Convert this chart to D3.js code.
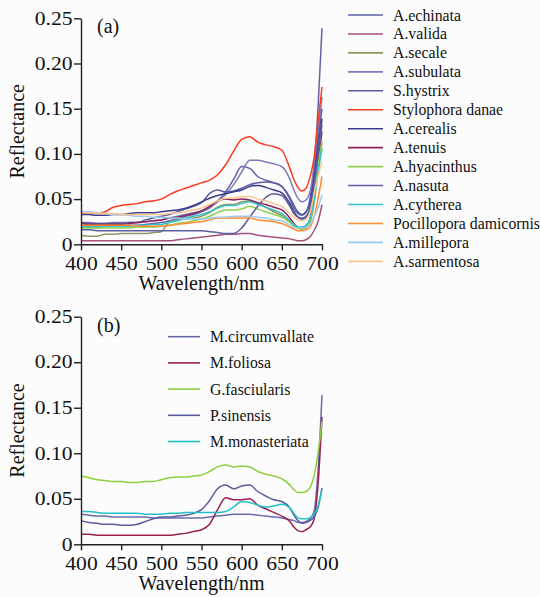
<!DOCTYPE html>
<html>
<head>
<meta charset="utf-8">
<script src="https://cdn.jsdelivr.net/npm/d3@7"></script>
<style>
  html, body { margin: 0; padding: 0; background: #fcfcfc; }
  svg { display: block; font-family: "Liberation Serif", "Times New Roman", serif; }
  .tick text { font-family: "Liberation Serif", "Times New Roman", serif; font-size: 18px; fill: #111; }
  .domain, .tick line { stroke: #222; stroke-width: 1.4; }
  .series { fill: none; stroke-width: 1.5; stroke-linejoin: round; }
  .legend text { font-size: 15.8px; fill: #111; }
  .axis-title { font-size: 20px; fill: #111; }
  .panel-label { font-size: 20px; fill: #111; }
</style>
</head>
<body>
<svg id="chart" width="540" height="597"></svg>
<script>
// ── data ─────────────────────────────────────────────
const WAVELENGTH = [400, 410, 420, 430, 440, 450, 460, 470, 480, 490, 500, 510, 520, 530, 540, 550,
                    560, 570, 580, 590, 600, 610, 620, 630, 640, 650, 660, 665, 670, 675, 680, 685, 690, 695, 700];

const X_TICKS = [400, 450, 500, 550, 600, 650, 700];
const Y_TICKS = [0, 0.05, 0.10, 0.15, 0.20, 0.25];

// (a) Acropora etc.
const A_NAMES  = ["A.echinata", "A.valida", "A.secale", "A.subulata", "S.hystrix", "Stylophora danae", "A.cerealis",
                  "A.tenuis", "A.hyacinthus", "A.nasuta", "A.cytherea", "Pocillopora damicornis", "A.millepora", "A.sarmentosa"];
const A_COLORS = ["#6062a8", "#a8507c", "#8a9a5e", "#7c7cba", "#585a9e", "#ff3b1f", "#3a3a8c",
                  "#901f5e", "#8fcf4f", "#5e5ea0", "#34c2c8", "#ff8c30", "#9ccbf0", "#ffc48c"];

const echinata  = [.019, .019, .019, .020, .020, .020, .021, .021, .022, .023, .024, .026, .028, .031, .033, .036,
                   .040, .048, .058, .072, .086, .084, .075, .071, .068, .064, .052, .043, .036, .033, .036, .050, .085, .150, .239];
const valida    = [.004, .004, .004, .004, .004, .004, .004, .004, .004, .004, .004, .004, .005, .006, .007, .008,
                   .009, .010, .011, .011, .012, .012, .010, .009, .008, .007, .006, .005, .004, .004, .005, .008, .015, .025, .044];
const secale    = [.010, .009, .009, .011, .011, .012, .012, .012, .012, .013, .014, .025, .027, .028, .029, .031,
                   .035, .041, .044, .044, .047, .048, .045, .041, .036, .032, .025, .021, .018, .017, .018, .024, .045, .080, .112];
const subulata  = [.024, .024, .023, .023, .024, .024, .024, .024, .025, .026, .027, .029, .031, .033, .035, .037,
                   .041, .047, .055, .066, .080, .093, .093, .091, .089, .086, .072, .060, .051, .047, .049, .058, .085, .125, .163];
const hystrix   = [.024, .023, .023, .023, .023, .023, .024, .024, .027, .029, .031, .033, .036, .039, .042, .046,
                   .056, .060, .058, .059, .062, .066, .068, .069, .068, .064, .050, .040, .034, .032, .035, .046, .075, .115, .150];
const danae     = [.035, .035, .034, .036, .041, .043, .044, .045, .047, .048, .050, .055, .059, .062, .065, .068,
                   .071, .077, .088, .103, .116, .119, .113, .110, .108, .104, .084, .072, .063, .059, .062, .074, .095, .135, .174];
const cerealis  = [.033, .033, .032, .032, .033, .033, .034, .035, .035, .035, .036, .037, .038, .040, .043, .047,
                   .051, .054, .056, .058, .060, .064, .065, .063, .060, .057, .045, .036, .030, .028, .030, .040, .070, .105, .139];
const tenuis    = [.023, .022, .022, .022, .022, .022, .023, .024, .025, .026, .027, .029, .030, .032, .034, .037,
                   .042, .048, .050, .049, .050, .049, .046, .044, .041, .038, .029, .023, .019, .018, .020, .028, .050, .090, .125];
const hyacinthus = [.018, .018, .018, .018, .018, .018, .018, .019, .019, .019, .020, .021, .023, .024, .026, .028,
                   .031, .035, .038, .038, .039, .042, .039, .036, .033, .030, .024, .020, .018, .017, .019, .026, .048, .085, .115];
const nasuta    = [.016, .016, .015, .015, .015, .015, .015, .015, .015, .015, .015, .015, .015, .015, .015, .015,
                   .014, .013, .012, .012, .018, .030, .042, .052, .056, .054, .042, .034, .030, .029, .031, .040, .065, .100, .132];
const cytherea  = [.020, .020, .020, .020, .020, .020, .020, .021, .021, .022, .022, .024, .026, .029, .031, .033,
                   .036, .040, .043, .043, .045, .047, .044, .041, .038, .034, .026, .022, .019, .019, .021, .028, .048, .080, .106];
const damicornis = [.021, .021, .021, .021, .021, .021, .021, .020, .020, .020, .020, .021, .022, .023, .024, .025,
                   .027, .029, .029, .029, .029, .029, .027, .026, .025, .023, .019, .017, .015, .015, .016, .019, .030, .050, .075];
const millepora = [.036, .036, .035, .034, .033, .033, .032, .031, .031, .030, .030, .029, .029, .028, .028, .028,
                   .029, .030, .030, .031, .031, .031, .030, .029, .027, .026, .021, .019, .018, .018, .019, .022, .030, .040, .055];
const sarmentosa = [.035, .035, .034, .034, .034, .033, .033, .033, .033, .033, .033, .034, .035, .036, .038, .040,
                   .044, .048, .051, .051, .053, .053, .050, .048, .045, .042, .034, .030, .027, .026, .028, .035, .055, .075, .092];

const A_VALUES = [echinata, valida, secale, subulata, hystrix, danae, cerealis,
                  tenuis, hyacinthus, nasuta, cytherea, damicornis, millepora, sarmentosa];

// (b)
const B_NAMES  = ["M.circumvallate", "M.foliosa", "G.fasciularis", "P.sinensis", "M.monasteriata"];
const B_COLORS = ["#6a6aaa", "#9a2052", "#8fcf40", "#5a5aa0", "#22c0c8"];

const circumvallate = [.033, .032, .031, .031, .030, .030, .030, .030, .030, .029, .029, .029, .029, .029, .029, .029,
                       .030, .031, .032, .033, .033, .033, .032, .031, .030, .029, .027, .026, .024, .024, .025, .028, .036, .080, .164];
const foliosa       = [.011, .011, .010, .010, .010, .010, .010, .010, .010, .010, .010, .010, .011, .012, .014, .016,
                       .022, .038, .051, .049, .049, .050, .043, .039, .035, .031, .025, .019, .015, .014, .016, .019, .027, .065, .140];
const fasciularis   = [.075, .073, .071, .070, .069, .069, .068, .068, .069, .069, .071, .073, .074, .074, .075, .076,
                       .080, .085, .087, .085, .086, .085, .080, .077, .075, .072, .065, .060, .057, .057, .058, .062, .075, .100, .135];
const sinensis      = [.026, .024, .023, .022, .022, .021, .021, .022, .025, .028, .030, .030, .031, .032, .034, .038,
                       .048, .061, .065, .061, .064, .065, .058, .053, .049, .047, .040, .032, .026, .023, .024, .026, .030, .040, .062];
const monasteriata  = [.036, .036, .035, .034, .034, .034, .034, .034, .033, .033, .033, .034, .034, .035, .035, .035,
                       .035, .035, .036, .041, .047, .046, .043, .041, .042, .044, .040, .034, .029, .028, .028, .029, .033, .042, .060];

const B_VALUES = [circumvallate, foliosa, fasciularis, sinensis, monasteriata];

// ── layout ───────────────────────────────────────────
const PLOT_L = 81;
const PLOT_R = 322;
const TEXT_STRETCH = 1.2;   // tick digits look horizontally stretched

const svg = d3.select("#chart");

function drawPanel(cfg) {
    const x = d3.scaleLinear().domain([400, 700]).range([PLOT_L, PLOT_R]);
    const y = d3.scaleLinear().domain([0, 0.25]).range([cfg.bottom, cfg.top]);
    const g = svg.append("g");

    // lines
    const line = d3.line()
        .x((d, i) => x(WAVELENGTH[i]))
        .y(d => y(d))
        .curve(d3.curveMonotoneX);

    g.append("g").selectAll("path")
        .data(cfg.values)
        .join("path")
        .attr("class", "series")
        .attr("stroke", (d, i) => cfg.colors[i])
        .attr("d", line);

    // axes
    const xAxis = g.append("g")
        .attr("transform", `translate(0,${cfg.bottom})`)
        .call(d3.axisBottom(x).tickValues(X_TICKS).tickSize(6).tickSizeOuter(0).tickPadding(7));
    xAxis.attr("font-family", null).attr("font-size", null);
    xAxis.selectAll(".tick text").attr("transform", `scale(${TEXT_STRETCH},1)`);

    const yAxis = g.append("g")
        .attr("transform", `translate(${PLOT_L},0)`)
        .call(d3.axisLeft(y).tickValues(Y_TICKS).tickSize(7).tickSizeOuter(0).tickPadding(0)
            .tickFormat(d => d === 0 ? "0" : d3.format(".2f")(d)));
    yAxis.attr("font-family", null).attr("font-size", null);
    yAxis.selectAll(".tick text").attr("transform", `scale(${TEXT_STRETCH},1)`);

    // titles
    g.append("text").attr("class", "axis-title")
        .attr("x", (PLOT_L + PLOT_R) / 2).attr("y", cfg.bottom + 46)
        .attr("text-anchor", "middle")
        .text("Wavelength/nm");
    g.append("text").attr("class", "axis-title")
        .attr("transform", `translate(24,${(cfg.top + cfg.bottom) / 2}) rotate(-90)`)
        .attr("text-anchor", "middle")
        .text("Reflectance");
    g.append("text").attr("class", "panel-label")
        .attr("x", 97).attr("y", cfg.top + 15)
        .text(cfg.label);

    // legend
    const lg = g.append("g").attr("class", "legend");
    cfg.names.forEach((name, i) => {
        const ly = cfg.legY + i * cfg.legStep;
        lg.append("line")
            .attr("x1", cfg.legX).attr("x2", cfg.legX + cfg.legLen)
            .attr("y1", ly).attr("y2", ly)
            .attr("stroke", cfg.colors[i]).attr("stroke-width", 1.6);
        lg.append("text")
            .attr("x", cfg.legX + cfg.legLen + 10).attr("y", ly + 5.5)
            .text(name);
    });
}

drawPanel({
    top: 18.3, bottom: 244.3, label: "(a)",
    names: A_NAMES, colors: A_COLORS, values: A_VALUES,
    legX: 348, legLen: 35, legY: 15, legStep: 18.95
});

drawPanel({
    top: 316.7, bottom: 544.3, label: "(b)",
    names: B_NAMES, colors: B_COLORS, values: B_VALUES,
    legX: 168, legLen: 32, legY: 336.7, legStep: 26.2
});
</script>
</body>
</html>
